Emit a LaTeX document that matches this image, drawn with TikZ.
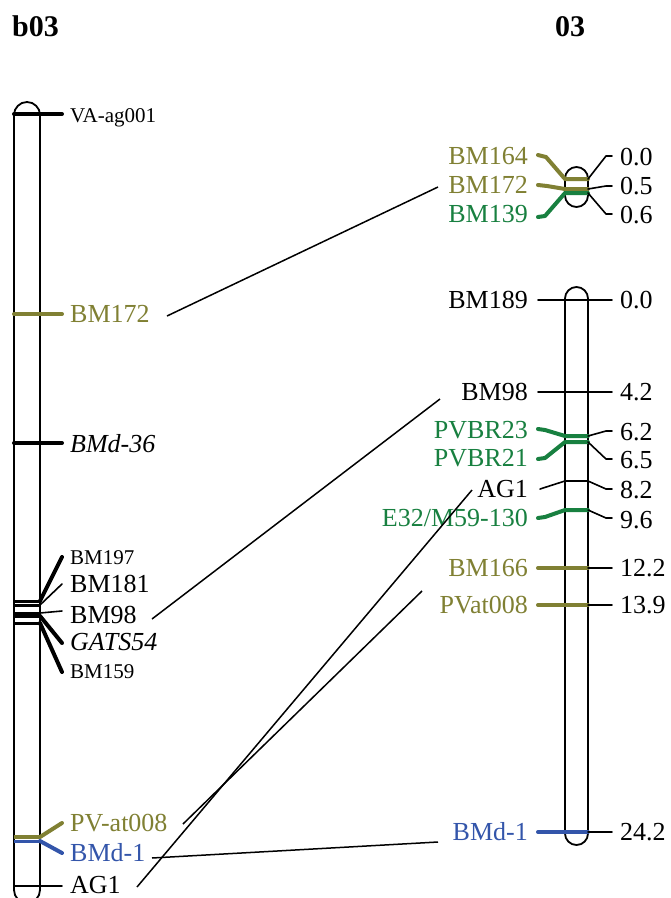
\documentclass[tikz,border=0pt]{standalone}
\usepackage{fontspec}
\setmainfont{Liberation Serif}
\definecolor{mkolive}{RGB}{128,128,51}
\definecolor{mkgreen}{RGB}{24,128,64}
\definecolor{mkblue}{RGB}{51,85,170}
\tikzset{
  lbl/.style={font=\fontsize{26}{28}\selectfont, inner sep=0pt, text height=17.2pt, text depth=0pt},
  smalllbl/.style={font=\fontsize{21}{23}\selectfont, inner sep=0pt, text height=13.9pt, text depth=0pt},
  ttl/.style={font=\fontsize{30}{32}\selectfont\bfseries, inner sep=0pt, text height=20.3pt, text depth=0pt},
  chrom/.style={draw=black, line width=1.8pt},
  bar/.style={line width=4pt},
  cbar/.style={line width=3pt},
  thick conn/.style={line width=4pt, line cap=round, line join=round},
  thin conn/.style={line width=1.6pt, line cap=round, line join=round},
  link/.style={line width=1.5pt, black},
}
\begin{document}
\begin{tikzpicture}[x=1pt,y=-1pt]
\useasboundingbox (0,0) rectangle (671,898);
\clip (0,0) rectangle (671,898);
\fill[white] (0,0) rectangle (671,898);

% titles
\node[ttl, anchor=west] (tb03) at (12,26) {b03};
\node[ttl] (t03) at (570,26) {03};

% chromosomes
\draw[chrom, rounded corners=13pt] (14,102) rectangle (40,903);
\draw[chrom, rounded corners=11.5pt] (565,167) rectangle (588,207);
\draw[chrom, rounded corners=11.5pt] (565,287) rectangle (588,845);

% ---- left chromosome markers ----
\draw[bar, line cap=round] (14,114) -- (62,114);
\draw[bar, line cap=round, mkolive] (14,314) -- (62,314);
\draw[bar, line cap=round] (14,443) -- (62,443);
\draw[cbar] (14,601) -- (40,601);
\draw[cbar] (14,605) -- (40,605);
\draw[cbar] (14,613) -- (40,613);
\draw[cbar] (14,616) -- (40,616);
\draw[cbar] (14,623) -- (40,623);
\draw[thick conn] (40,601) -- (62,557);
\draw[thin conn] (40,605) -- (62,584);
\draw[thin conn] (40,613) -- (62,611);
\draw[thick conn] (40,616) -- (62,643);
\draw[thick conn] (40,623) -- (62,672);
\draw[bar, mkolive] (14,837) -- (40,837);
\draw[thick conn, mkolive] (40,837) -- (62,823);
\draw[cbar, mkblue] (14,841) -- (40,841);
\draw[thick conn, mkblue] (40,841) -- (62,853);
\draw[thin conn] (14,886) -- (62,886);

% left labels
\node[smalllbl, anchor=west] (lVA) at (70,116) {VA-ag001};
\node[lbl, anchor=west, text=mkolive] (lBM172) at (70,314) {BM172};
\node[lbl, anchor=west] (lBMd36) at (70,444) {\itshape BMd-36};
\node[smalllbl, anchor=west] (lBM197) at (70,558) {BM197};
\node[lbl, anchor=west] (lBM181) at (70,584) {BM181};
\node[lbl, anchor=west] (lBM98) at (70,615) {BM98};
\node[lbl, anchor=west] (lGATS) at (70,642) {\itshape GATS54};
\node[smalllbl, anchor=west] (lBM159) at (70,672) {BM159};
\node[lbl, anchor=west, text=mkolive] (lPV) at (70,823) {PV-at008};
\node[lbl, anchor=west, text=mkblue] (lBMd1) at (70,853) {BMd-1};
\node[lbl, anchor=west] (lAG1) at (70,885) {AG1};

% ---- right small chromosome ----
\draw[thick conn, mkolive] (538,155) -- (546,157) -- (565,179) -- (588,179);
\draw[thick conn, mkolive] (538,185) -- (547,186) -- (565,189) -- (588,189);
\draw[thick conn, mkgreen] (538,217) -- (545,216) -- (565,193) -- (588,193);
\draw[thin conn] (588,179) -- (606,156) -- (612,156);
\draw[thin conn] (588,189) -- (606,186) -- (612,186);
\draw[thin conn] (588,193) -- (606,214) -- (612,214);

\node[lbl, anchor=east, text=mkolive] (rBM164) at (528,156) {BM164};
\node[lbl, anchor=east, text=mkolive] (rBM172) at (528,185) {BM172};
\node[lbl, anchor=east, text=mkgreen] (rBM139) at (528,214) {BM139};
\node[lbl, anchor=west] (n00a) at (620,157) {0.0};
\node[lbl, anchor=west] (n05) at (620,186) {0.5};
\node[lbl, anchor=west] (n06) at (620,215) {0.6};

% ---- right main chromosome ----
\draw[thin conn] (538,300) -- (612,300);
\draw[thin conn] (538,392) -- (612,392);
\draw[thick conn, mkgreen] (538,429) -- (545,430) -- (565,436) -- (588,436);
\draw[thin conn] (588,436) -- (606,431) -- (612,431);
\draw[thick conn, mkgreen] (538,459) -- (545,458) -- (565,442) -- (588,442);
\draw[thin conn] (588,442) -- (606,459) -- (612,459);
\draw[thin conn] (540,489) -- (565,481) -- (588,481) -- (606,489) -- (612,489);
\draw[thick conn, mkgreen] (538,518) -- (545,517) -- (565,510) -- (588,510);
\draw[thin conn] (588,510) -- (606,518) -- (612,518);
\draw[thick conn, mkolive] (538,568) -- (588,568);
\draw[thin conn] (588,568) -- (612,568);
\draw[thick conn, mkolive] (538,605) -- (588,605);
\draw[thin conn] (588,605) -- (612,605);
\draw[thick conn, mkblue] (538,832) -- (588,832);
\draw[thin conn] (588,832) -- (612,832);

\node[lbl, anchor=east] (rBM189) at (528,300) {BM189};
\node[lbl, anchor=east] (rBM98) at (528,392) {BM98};
\node[lbl, anchor=east, text=mkgreen] (rPVBR23) at (528,430) {PVBR23};
\node[lbl, anchor=east, text=mkgreen] (rPVBR21) at (528,458) {PVBR21};
\node[lbl, anchor=east] (rAG1) at (528,489) {AG1};
\node[lbl, anchor=east, text=mkgreen] (rE32) at (528,518) {E32/M59-130};
\node[lbl, anchor=east, text=mkolive] (rBM166) at (528,568) {BM166};
\node[lbl, anchor=east, text=mkolive] (rPVat) at (528,605) {PVat008};
\node[lbl, anchor=east, text=mkblue] (rBMd1) at (528,832) {BMd-1};

\node[lbl, anchor=west] (n00b) at (620,300) {0.0};
\node[lbl, anchor=west] (n42) at (620,392) {4.2};
\node[lbl, anchor=west] (n62) at (620,432) {6.2};
\node[lbl, anchor=west] (n65) at (620,460) {6.5};
\node[lbl, anchor=west] (n82) at (620,490) {8.2};
\node[lbl, anchor=west] (n96) at (620,520) {9.6};
\node[lbl, anchor=west] (n122) at (620,568) {12.2};
\node[lbl, anchor=west] (n139) at (620,605) {13.9};
\node[lbl, anchor=west] (n242) at (620,832) {24.2};

% ---- links between the two maps ----
\coordinate (aBM172) at (167,316);
\coordinate (bBM172) at (438,187);
\coordinate (aBM98) at (152,619);
\coordinate (bBM98) at (440,399);
\coordinate (aAG1) at (137,887);
\coordinate (bAG1) at (472,490);
\coordinate (aPV) at (183,824);
\coordinate (bPV) at (422,591);
\coordinate (aBMd1) at (152,858);
\coordinate (bBMd1) at (438,842);
\draw[link] (aBM172) -- (bBM172);
\draw[link] (aBM98) -- (bBM98);
\draw[link] (aAG1) -- (bAG1);
\draw[link] (aPV) -- (bPV);
\draw[link] (aBMd1) -- (bBMd1);
\end{tikzpicture}
\end{document}
